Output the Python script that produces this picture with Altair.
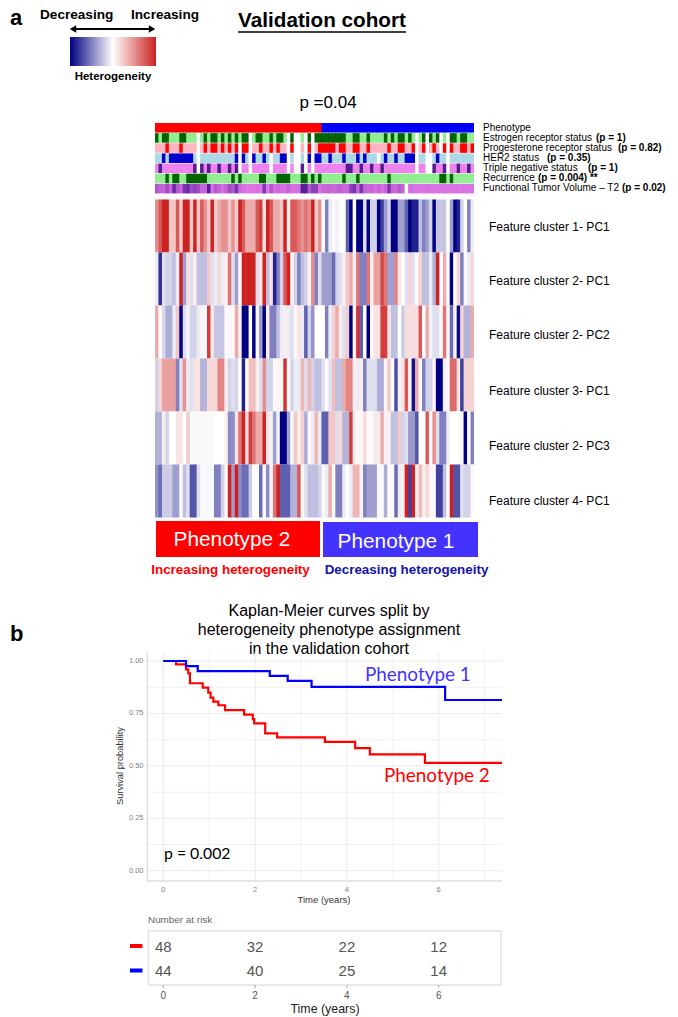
import altair as alt
import pandas as pd

SANS = "Liberation Sans"
CAL = "Lato"

# ---------- heatmap values, -4 = navy, +4 = red ----------
n_pheno2 = 48
n_pheno1 = 44
row_labels = ["Feature cluster 1- PC1", "Feature cluster 2- PC1", "Feature cluster 2- PC2",
              "Feature cluster 3- PC1", "Feature cluster 2- PC3", "Feature cluster 4- PC1"]

row1 = [2,3,4,4,1,1,3,1,4,4,1,4,1,3,2,1,4,1,1.5,2,2,1,2,1,4,3,1.5,1.5,1.5,3,3.5,.5,4,3,1.5,1.5,1,4,.3,3,3,2.5,2,2.5,2,4,1,2,
        0,-2,-.3,.1,-.2,0,0,-2.5,-4,0,-4,-4,-.5,-4,-.7,-.7,-4,-3,-1.5,-.7,-4,-4,-1.5,-1.5,-2.5,-4,-3.5,-3.5,-1,-2,-1.5,-.7,-4,-.9,-.9,-.9,0,-1.5,-4,-3.5,-.7,0,-2,-.3]
row2 = [-.3,-3.3,-.5,-.7,-.7,-1,-.3,4,-1.5,.5,-.5,.3,-1,-1,-1,1,-.5,-.3,.7,-.3,.3,2.5,-.5,-1.5,.1,4,4,4,4,-.5,.5,4,-1,.5,-3.5,-2,-.7,3,4,.2,-.7,-2,-1,-.7,.2,2,-2,-.5,
        -1.5,-1.5,-1.5,-2.3,-.7,-.5,.3,1,1.5,-.3,2.5,-2,-2,2.5,.3,1.7,1.7,3.3,2.5,-1.5,-1.5,2.2,.5,0,-.5,.8,-.5,.1,.8,-1,-1,-.3,-1.2,4,0,1.5,.1,-4,.1,.7,-2,-.1,-.3,.7]
row3 = [1.5,0,-.6,-1.3,-1.3,-.3,1,-4,-.5,-.2,-.7,-.7,-.3,.2,-.1,3.5,.4,-.9,-.9,-.9,.1,-.1,.1,1.5,.3,-4,-4,0,-4,-.1,-1.5,-4,.3,-2,-2,-1,-.3,.3,-.3,-.5,.1,.5,-.3,-2.5,-.7,-1.7,0,0,
        0,-2,-.3,.8,1.5,.3,-.5,.9,-4,.2,3.7,-2.5,0,-4,.1,.5,.5,3.5,3.5,.5,-1,-1,0,-.8,.6,.6,.6,.6,3,.1,1.5,-.2,-.5,-.5,.1,2.5,.1,-2.3,.2,-3.8,.8,-1.2,-1.2,1.5]
row4 = [-.7,.7,1.7,1.7,1.7,1.7,-2,-.5,2,-.3,-.5,.5,.5,-1.2,-1.2,.7,.7,.7,2.2,2.2,.3,-.7,-.5,-.7,0,-3.5,.1,1.2,1.2,.3,-.5,2,-.7,-.7,.1,.2,.2,3.7,.1,-.7,-.3,-.3,1.3,-.5,1.3,-.7,-1,-1,
        -.5,.1,-.5,1.2,-1,-1,1.5,2.2,2.2,.3,-.3,.3,-2,-.5,-.5,-.5,-1.3,-1.3,.2,1,0,-2.8,-.2,.5,3,.2,-3.7,1.5,.1,-2,-.7,-.7,.2,-4,-4,-.2,.1,2.7,2.7,.5,-3,.8,.8,.8]
row5 = [-1.2,-1.2,.3,-.7,0,0,.5,.5,0,1,-.1,-.1,-.1,-.1,-.1,.1,-.1,0,0,0,.3,-1.8,-1.8,.5,2.5,4,.7,3.5,2.5,1.5,1.5,4,.5,-.2,-1.5,-.2,-4,-4,-1.5,-.1,1,.3,.8,-1.3,.1,-.3,1.3,-.3,
        -2.5,-2.5,1,1,-.5,.7,-1.2,-1.2,3.5,.3,.1,.1,.6,.1,.1,-.3,.4,1.5,-.2,.3,-1,-1,1,-.7,-.5,-1.6,-1.6,-2.7,0,0,3,.1,2,-.5,-2,-2,-.3,0,0,0,-.1,-4,.1,-2]
row6 = [-1.7,-2.3,-.8,-.8,-.8,-1.5,-1.5,-.1,-1,-.5,-2.7,-2.7,-.5,-.1,-.1,-.1,-.1,-2,-2,-.7,.2,4,-1.5,4,-1.8,-2.3,-2.3,-.8,0,0,-2.3,.1,-1.8,.2,2.5,4,-2.5,-2.5,-2.5,-1.2,-1.2,3,.1,-.5,-1,-1,-1,-.7,
        -.1,-.3,1.5,.1,-2,-2,-.3,0,-.3,1.3,1.3,.2,-2,-1.5,-1.5,-1.5,-.1,-.1,-1.3,.1,.1,-2.3,-.3,.3,4,-3,4,.3,1.2,.3,.7,.2,.1,-3,-3,-1,.1,4,-2.7,-2.7,-.5,-.7,-.7,.1]
heat_rows = [row1, row2, row3, row4, row5, row6]

# ---------- annotation tracks ----------
track_phenotype = "A" * n_pheno2 + "Z" * n_pheno1
track_er = "DLDDLLLDDLLLWLDLDDLDLDLDLDDWLDDLLDLDDLWDWWLWDWDD" + \
    "DDDDDDD" "LL" "DD" "LL" "D" "LLLL" "D" "L" "D" "L" "DD" "L" "D" "L" "W" "L" "D" "W" "D" "L" "D" "W" "L" "W" "DD" "L" "DD" "LL"
track_pr = "PPPRPPPRPPPPWPRPRRPRPRPRWRRWPPRPPRPRPPWRWWPWRWPR" + \
    "RRRR" "P" "RR" "PP" "RR" "PP" "R" "PPPPP" "R" "PP" "RR" "PP" "R" "W" "P" "R" "W" "P" "R" "P" "W" "R" "W" "R" "PP" "RR" "P" "R"
track_her2 = "BBXBXXXXXXXBWBBBBBBBBBBXWXBWXBBXBWBBXXWBWWBWXWXX" + \
    "BB" "X" "BBB" "X" "BBB" "X" "B" "X" "BBB" "W" "B" "X" "BB" "X" "BB" "XXX" "W" "BB" "WW" "B" "X" "BB" "W" "BBBBBBB"
track_tn = "MVMMMMMMMMMVWVMVMMVMMVMVWMMWMMMMMWMMMMWMWWVWMWMM" + \
    "MMMMMMM" "VV" "MM" "V" "MM" "V" "MM" "V" "MMMMMMMMM" "W" "MM" "WW" "V" "MM" "V" "W" "MM" "V" "MM" "V" "M"
track_rec = "LLLDLDDLL" "DDDDDD" "LLLLLLL" "D" "L" "D" "LLLLL" "DD" "LLL" "DDDD" "LLL" "DD" "L" "D" "L" "D" + \
    "LLLLLL" "D" "LLL" "D" "LLLLLLLL" "D" "LLLLLLLLLLLLLL" "DD" "L" "D" "LLLLLL"
tracks = [track_phenotype, track_er, track_pr, track_her2, track_tn, track_rec]
track_colors = {"A": "#FF0000", "Z": "#0000FF", "L": "#90EE90", "D": "#006400", "P": "#FFB6C1", "R": "#FF0000",
                "B": "#ADD8E6", "X": "#0000CD", "M": "#EE82EE", "V": "#551A8B"}
ftv = [1.5,1,1,2,1,3.5,1.5,1,3,3.5,2,2.5,2,1,1,4,.5,1.5,1,.5,1,2,1.5,3,.8,.5,.3,.3,.3,.5,.3,3,.3,1.5,.5,.8,.5,.5,1,.5,.5,.5,4,4,1.5,2.5,2.5,.5,
       .8,1,1,.8,1,1.2,.8,.8,2.5,3,1,3,1,.8,1,.5,1,.5,1,3,1,.8,1.5,1,None,.5,.4,.4,.4,.4,.5,.4,.4,.4,.4,.4,.4,.4,.4,.4,.4,.4,.4,.4]

track_text = ["Phenotype", "Estrogen receptor status", "Progesterone receptor status", "HER2 status",
              "Triple negative status", "Recurrence", "Functional Tumor Volume \u2013 T2"]
track_p = ["", "(p = 1)", "(p = 0.82)", "(p = 0.35)", "(p = 1)", "(p = 0.004) **", "(p = 0.02)"]

# ---------- Kaplan-Meier ----------
km1_t = [0, .495, .75, 2.32, 2.71, 3.23, 6.14, 7.38]
km1_s = [1, .976, .952, .929, .905, .877, .814, .814]
km2_t = [0, .277, .495, .545, .58, .858, .98, 1.03, 1.09, 1.2, 1.345, 1.76, 1.95, 1.98, 2.22, 2.48, 3.52, 4.18, 4.5, 5.7, 7.38]
km2_s = [1, .984, .96, .941, .894, .873, .849, .825, .806, .789, .766, .744, .723, .703, .655, .636, .614, .585, .555, .514, .514]
major_t = [0, 2, 4, 6]
minor_t = [1, 3, 5, 7]
major_s = [0, .25, .5, .75, 1]
minor_s = [.125, .375, .625, .875]
risk_t = [0, 2, 4, 6]
risk_2 = [48, 32, 22, 12]
risk_1 = [44, 40, 25, 14]

for r in heat_rows:
    assert len(r) == 92, len(r)
for t in tracks:
    assert len(t) == 92, len(t)
assert len(ftv) == 92, len(ftv)

# ---------- helpers ----------
OFF = 8
BLANK = alt.Data(values=[{}])

def px(v):
    return alt.value(v - OFF)

def rng(a, b):
    return [a - OFF, b - OFF]

def label(text, x, y, size, color="#000000", weight="normal", align="left", font=SANS, angle=0):
    kw = dict(text=text, align=align, baseline="middle", fontSize=size, color=color, fontWeight=weight, font=font)
    if angle:
        kw["angle"] = angle
    return alt.Chart(BLANK).mark_text(**kw).encode(x=px(x), y=px(y))

def box(x1, x2, y1, y2, color):
    return alt.Chart(BLANK).mark_rect(color=color).encode(x=px(x1), x2=px(x2), y=px(y1), y2=px(y2))

def hline(x1, x2, y, color="#000000", w=1):
    return alt.Chart(BLANK).mark_rule(color=color, strokeWidth=w).encode(x=px(x1), x2=px(x2), y=px(y))

def col_end(i):
    return min(i + 1.2, 92)

layers = []

# scales
col_x = alt.Scale(domain=[0, 92], range=rng(155, 474), nice=False, zero=False)
heat_y = alt.Scale(domain=[0, 6], range=rng(199.5, 517.5), nice=False, zero=False)
track_y = alt.Scale(domain=[0, 7], range=rng(122.7, 193.7), nice=False, zero=False)
heat_color = alt.Scale(domain=[-4, 0, 4], range=["#000080", "#FFFFFF", "#CC2222"], interpolate="rgb")
ftv_color = alt.Scale(domain=[0, 4], range=["#E87CEA", "#561C9C"], interpolate="rgb")
km_x = alt.Scale(domain=[0, 7], range=rng(163.3, 163.3 + 7 * 45.9), nice=False, zero=False)
km_y = alt.Scale(domain=[0, 1], range=rng(870.7, 661), nice=False, zero=False)
risk_y = alt.Scale(domain=[0, 1], range=rng(947, 971), nice=False, zero=False)
grad_x = alt.Scale(domain=[-4, 4], range=rng(70, 156), nice=False, zero=False)

# --- top-left legend ---
layers += [
    label("a", 10, 18, 22, weight="bold"),
    label("Decreasing", 40, 15, 13.6, weight="bold"),
    label("Increasing", 131, 15, 13.6, weight="bold"),
    hline(73, 152, 29, w=2.2),
    alt.Chart(BLANK).mark_point(shape="triangle-left", filled=True, color="#000000", size=55, opacity=1).encode(x=px(73), y=px(29)),
    alt.Chart(BLANK).mark_point(shape="triangle-right", filled=True, color="#000000", size=55, opacity=1).encode(x=px(152), y=px(29)),
]
grad = alt.LinearGradient(gradient="linear", x1=0, x2=1, y1=0, y2=0, stops=[
    alt.GradientStop(offset=0, color="#000080"), alt.GradientStop(offset=.5, color="#FFFFFF"),
    alt.GradientStop(offset=1, color="#CC2222")])
layers += [
    alt.Chart(alt.Data(values=[{"lo": -4, "hi": 4}])).mark_rect(color=grad).encode(
        x=alt.X("lo:Q", scale=grad_x, axis=None), x2="hi:Q", y=px(37), y2=px(66)),
    label("Heterogeneity", 113, 77, 11.5, weight="bold", align="center"),
    label("Validation cohort", 322, 21, 20.7, weight="bold", align="center"),
    hline(238, 406, 32, w=1.6),
    label("p =0.04", 328, 103, 17, align="center"),
]

# --- annotation tracks ---
tr = []
for ri, t in enumerate(tracks):
    for ci, c in enumerate(t):
        if c != "W":
            end = ci + 1 if ci + 1 < 92 and t[ci + 1] == "W" else col_end(ci)
            tr.append({"c0": ci, "c1": end, "r0": ri + .03, "r1": ri + .97, "code": c})
codes = list(track_colors)
layers.append(alt.Chart(pd.DataFrame(tr)).mark_rect().encode(
    x=alt.X("c0:Q", scale=col_x, axis=None), x2="c1:Q",
    y=alt.Y("r0:Q", scale=track_y, axis=None), y2="r1:Q",
    color=alt.Color("code:N", scale=alt.Scale(domain=codes, range=[track_colors[k] for k in codes]), legend=None)))
ftv_df = pd.DataFrame([{"c0": i, "c1": col_end(i) if i + 1 < 92 and ftv[i + 1] is not None else i + 1,
                        "r0": 6.03, "r1": 6.97, "v": v} for i, v in enumerate(ftv) if v is not None])
layers.append(alt.Chart(ftv_df).mark_rect().encode(
    x=alt.X("c0:Q", scale=col_x, axis=None), x2="c1:Q",
    y=alt.Y("r0:Q", scale=track_y, axis=None), y2="r1:Q",
    color=alt.Color("v:Q", scale=ftv_color, legend=None)))

track_label_y = [127.5, 137.5, 148, 158, 168, 178, 188]
track_p_x = [None, 596, 618, 547, 588, 538, 622]
for txt, p, y, x in zip(track_text, track_p, track_label_y, track_p_x):
    layers.append(label(txt, 483, y, 10))
    if p:
        layers.append(label(p, x, y, 10, weight="bold"))

# --- heatmap ---
hm = [{"c0": ci, "c1": col_end(ci), "r0": ri, "r1": ri + 1, "v": v}
      for ri, r in enumerate(heat_rows) for ci, v in enumerate(r)]
layers.append(alt.Chart(pd.DataFrame(hm)).mark_rect().encode(
    x=alt.X("c0:Q", scale=col_x, axis=None), x2="c1:Q",
    y=alt.Y("r0:Q", scale=heat_y, axis=None), y2="r1:Q",
    color=alt.Color("v:Q", scale=heat_color, legend=None)))
for lab, y in zip(row_labels, [227, 281, 335, 391, 446, 501]):
    layers.append(label(lab, 489, y, 12))

# --- phenotype boxes ---
layers += [
    box(156, 320, 521, 557, "#FF0000"),
    box(323, 478, 522, 557, "#4433FF"),
    label("Phenotype 2", 232, 540, 20.8, color="#FFFFFF", align="center"),
    label("Phenotype 1", 396, 542, 20.8, color="#FFFFFF", align="center"),
    label("Increasing heterogeneity", 230.5, 570, 13.4, color="#FF0000", weight="bold", align="center"),
    label("Decreasing heterogeneity", 406.5, 570, 13.4, color="#1414A8", weight="bold", align="center"),
]

# --- KM title ---
layers += [
    label("b", 10, 634, 22, weight="bold"),
    label("Kaplan-Meier curves split by", 329, 611, 16, align="center"),
    label("heterogeneity phenotype assignment", 329, 630, 16, align="center"),
    label("in the validation cohort", 329, 649, 16, align="center"),
]

# --- KM grid and frame ---
def vgrid(vals, color, w):
    return alt.Chart(pd.DataFrame({"t": vals})).mark_rule(color=color, strokeWidth=w).encode(
        x=alt.X("t:Q", scale=km_x, axis=None), y=px(652), y2=px(881))

def hgrid(vals, color, w):
    return alt.Chart(pd.DataFrame({"s": vals})).mark_rule(color=color, strokeWidth=w).encode(
        y=alt.Y("s:Q", scale=km_y, axis=None), x=px(147.3), x2=px(502))

layers += [
    vgrid(minor_t, "#F2F2F2", 1), vgrid(major_t, "#EBEBEB", 1),
    hgrid(minor_s, "#F0F0F0", 1), hgrid(major_s, "#EBEBEB", 1),
    alt.Chart(BLANK).mark_rule(color="#DEDEDE", strokeWidth=1.3).encode(x=px(147.3), y=px(652), y2=px(881)),
    hline(147, 502, 881, color="#DEDEDE", w=1.3),
    alt.Chart(pd.DataFrame({"s": major_s})).mark_text(align="right", baseline="middle", fontSize=7.5, color="#7F7F7F", font=SANS).encode(
        x=px(143.5), y=alt.Y("s:Q", scale=km_y, axis=None), text=alt.Text("s:Q", format=".2f")),
    alt.Chart(pd.DataFrame({"t": major_t})).mark_text(align="center", baseline="middle", fontSize=7.5, color="#7F7F7F", font=SANS).encode(
        x=alt.X("t:Q", scale=km_x, axis=None), y=px(890), text="t:Q"),
    label("Survival probability", 120, 766, 9.3, color="#333333", align="center", angle=270),
    label("Time (years)", 324, 900, 9.5, color="#333333", align="center"),
]

# --- KM curves ---
layers += [
    alt.Chart(pd.DataFrame({"t": km2_t, "s": km2_s})).mark_line(interpolate="step-after", color="#FF0000", strokeWidth=2.2).encode(
        x=alt.X("t:Q", scale=km_x, axis=None), y=alt.Y("s:Q", scale=km_y, axis=None)),
    alt.Chart(pd.DataFrame({"t": km1_t, "s": km1_s})).mark_line(interpolate="step-after", color="#0000FF", strokeWidth=2.2).encode(
        x=alt.X("t:Q", scale=km_x, axis=None), y=alt.Y("s:Q", scale=km_y, axis=None)),
    label("Phenotype 1", 365, 675, 18.9, color="#4433FF", font=CAL),
    label("Phenotype 2", 384, 776, 18.9, color="#FF0000", font=CAL),
    label("p = 0.002", 164, 854, 15.8, font=CAL),
]

# --- risk table ---
risk_df = pd.DataFrame({"t": risk_t * 2, "row": [0] * 4 + [1] * 4, "n": risk_2 + risk_1})
layers += [
    label("Number at risk", 148, 920, 9.9, color="#666666"),
    alt.Chart(BLANK).mark_rect(fill="#FFFFFF", stroke="#E2E2E2", strokeWidth=1.3).encode(x=px(148.3), x2=px(501), y=px(931), y2=px(985)),
    alt.Chart(risk_df).mark_text(align="center", baseline="middle", fontSize=15, color="#555555", font=SANS).encode(
        x=alt.X("t:Q", scale=km_x, axis=None), y=alt.Y("row:Q", scale=risk_y, axis=None), text="n:Q"),
    hline(130, 142.5, 946, color="#FF0000", w=4),
    hline(130, 142.5, 970.5, color="#0000FF", w=4),
    alt.Chart(pd.DataFrame({"t": major_t})).mark_rule(color="#AAAAAA", strokeWidth=1).encode(
        x=alt.X("t:Q", scale=km_x, axis=None), y=px(985), y2=px(988)),
    alt.Chart(pd.DataFrame({"t": major_t})).mark_text(align="center", baseline="middle", fontSize=10, color="#555555", font=SANS).encode(
        x=alt.X("t:Q", scale=km_x, axis=None), y=px(996), text="t:Q"),
    label("Time (years)", 325, 1009, 12.4, color="#222222", align="center"),
]

chart = alt.layer(*layers).resolve_scale(
    x="independent", y="independent", color="independent"
).properties(width=662, height=1009, padding=0, autosize=alt.AutoSizeParams(type="none"), background="#FFFFFF").configure_view(stroke=None)

chart.save("out.html", embed_options={"renderer": "svg", "actions": False})
